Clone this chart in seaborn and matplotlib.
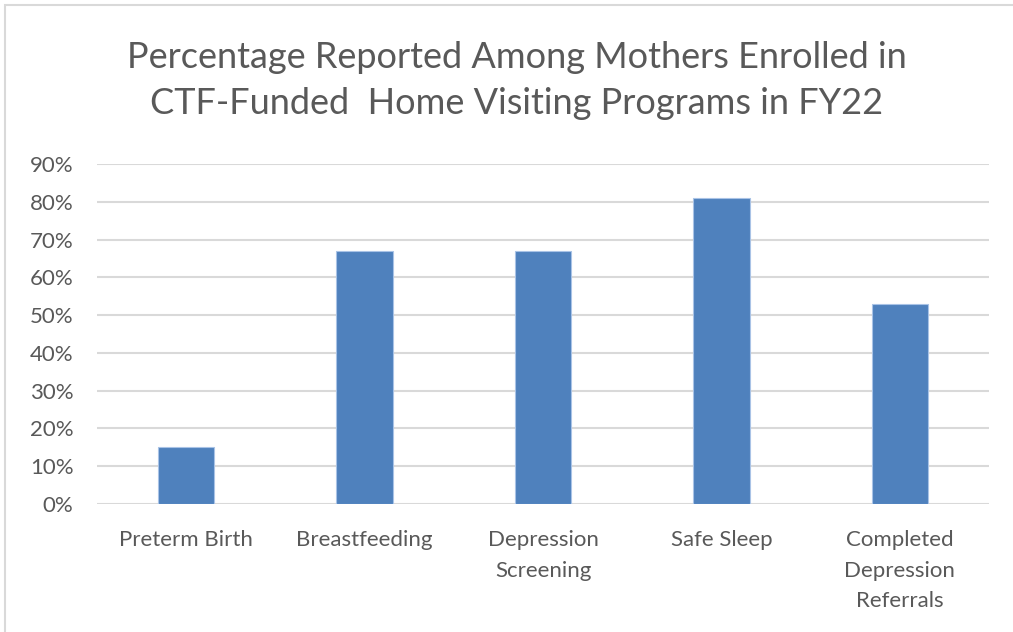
import matplotlib
matplotlib.use("Agg")
import matplotlib.pyplot as plt
import seaborn as sns
import pandas as pd
from matplotlib.ticker import PercentFormatter, MultipleLocator
from matplotlib.patches import Rectangle

categories = ["Preterm Birth", "Breastfeeding", "Depression\nScreening", "Safe Sleep",
              "Completed\nDepression\nReferrals"]
values = [0.15, 0.67, 0.67, 0.81, 0.53]
title = "Percentage Reported Among Mothers Enrolled in\nCTF-Funded  Home Visiting Programs in FY22"

sns.set_theme(style="white")
plt.rcParams['font.family'] = ['Lato', 'DejaVu Sans']
plt.rcParams['ytick.major.pad'] = 17
plt.rcParams['xtick.major.pad'] = 19

W, H = 1013, 632
fig = plt.figure(figsize=(W / 100, H / 100), dpi=100)
ax = fig.add_axes([97 / W, 128 / H, (989 - 97) / W, (504 - 164) / H])

df = pd.DataFrame({"cat": categories, "val": values})
sns.barplot(data=df, x="cat", y="val", color="#4F81BD", width=0.317, saturation=1,
            edgecolor="#A9C3E6", linewidth=0.8, ax=ax, zorder=3)

ax.set_ylim(0, 0.9)
ax.yaxis.set_major_locator(MultipleLocator(0.1))
ax.yaxis.set_major_formatter(PercentFormatter(1.0, decimals=0))
ax.grid(axis="y", color="#D9D9D9", linewidth=1.5, zorder=0)
ax.set_axisbelow(True)
for s in ax.spines.values():
    s.set_visible(False)
ax.set_xlabel("")
ax.set_ylabel("")
ax.yaxis.set_tick_params(labelsize=16, labelcolor="#595959", length=0, pad=17)
ax.xaxis.set_tick_params(labelsize=16, labelcolor="#595959", length=0, pad=19)
for lbl in ax.get_xticklabels():
    lbl.set_linespacing(1.65)
    lbl.set_verticalalignment("top")

fig.text(517 / W, 1 - 80.5 / H, title, ha="center", va="center", fontsize=26,
         color="#595959", linespacing=1.47)

fig.patches.append(Rectangle((5 / W, -0.1), 1.2, (H - 5) / H + 0.1, transform=fig.transFigure,
                             fill=False, edgecolor="#D9D9D9", linewidth=1.5))

fig.savefig("out.png", dpi=100)
